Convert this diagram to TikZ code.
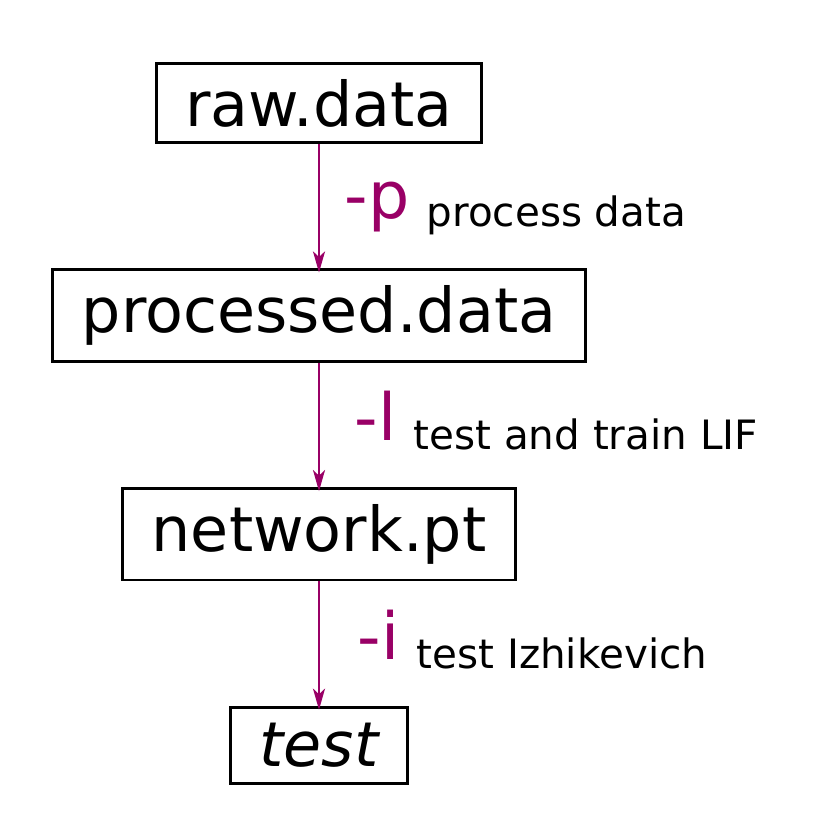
\documentclass[tikz,border=0pt]{standalone}
\usepackage{fontspec}
\setmainfont{DejaVu Sans}
\usetikzlibrary{arrows.meta,positioning}
\definecolor{flagpurple}{RGB}{153,0,102}

\begin{document}
\begin{tikzpicture}[
    x=0.01cm, y=-0.01cm,
    node distance=1.24cm,
    file/.style={rectangle, draw=black, line width=0.85pt, inner xsep=8.3pt, inner ysep=4.5pt, font=\fontsize{17.6}{21}\selectfont},
    flag/.style={inner sep=0pt, anchor=base west, text=flagpurple, font=\fontsize{18.5}{22}\selectfont},
    note/.style={inner sep=0pt, anchor=base west, font=\fontsize{11.5}{14}\selectfont},
    arrow/.style={-{Stealth[length=6pt, width=3.4pt, inset=1.6pt]}, shorten >=-1.2pt, line width=0.8pt, color=flagpurple}
]
\useasboundingbox (0,0) rectangle (827,827);

% Files
\node[file] (raw) at (319,103) {raw.data};
\node[file, below=of raw] (proc) {processed.data};
\node[file, below=of proc] (net) {network.pt};
\node[file, below=of net] (test) {\itshape test};

% Steps
\draw[arrow] (raw) -- (proc);
\draw[arrow] (proc) -- (net);
\draw[arrow] (net) -- (test);

% Step labels
\node[flag] (pflag) at (344,218) {-p};
\node[note] (pnote) at (426,226) {process data};
\node[flag] (lflag) at (354,440) {-l};
\node[note] (lnote) at (413,449) {test and train LIF};
\node[flag] (iflag) at (357,659) {-i};
\node[note] (inote) at (416,668) {test Izhikevich};

\end{tikzpicture}
\end{document}
